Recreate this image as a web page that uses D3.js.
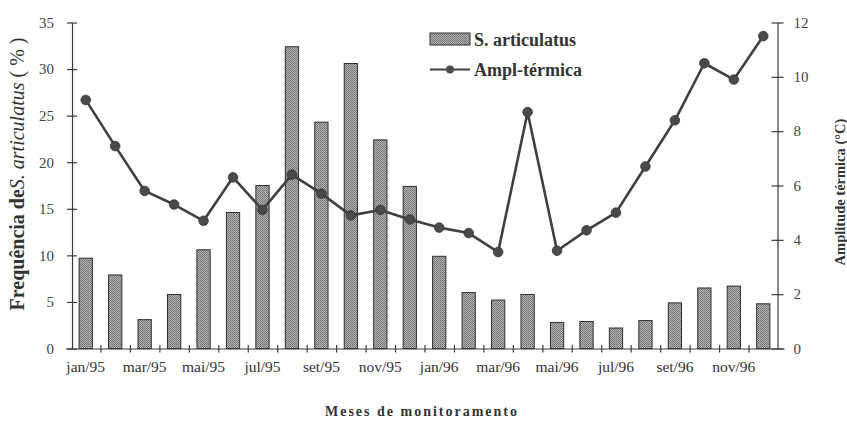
<!DOCTYPE html>
<html>
<head>
<meta charset="utf-8">
<script src="https://cdn.jsdelivr.net/npm/d3@7"></script>
<style>
  body { margin: 0; background: #fff; }
  svg { display: block; font-family: "Liberation Serif", "Times New Roman", serif; }
</style>
</head>
<body>
<svg id="chart"></svg>
<script>
// meses de monitoramento (jan/95 - dez/96)
const meses = ["jan/95","fev/95","mar/95","abr/95","mai/95","jun/95","jul/95","ago/95","set/95","out/95","nov/95","dez/95",
               "jan/96","fev/96","mar/96","abr/96","mai/96","jun/96","jul/96","ago/96","set/96","out/96","nov/96","dez/96"];
const rotulos = ["jan/95","mar/95","mai/95","jul/95","set/95","nov/95","jan/96","mar/96","mai/96","jul/96","set/96","nov/96"];

// frequencia de S. articulatus (%)
const frequencia = [9.7, 7.9, 3.1, 5.8, 10.6, 14.6, 17.5, 32.4, 24.3, 30.6, 22.4, 17.4,
                    9.9, 6.0, 5.2, 5.8, 2.8, 2.9, 2.2, 3.0, 4.9, 6.5, 6.7, 4.8];

// amplitude termica (C)
const amplitude = [9.15, 7.45, 5.8, 5.3, 4.7, 6.3, 5.1, 6.4, 5.7, 4.9, 5.1, 4.75,
                   4.45, 4.25, 3.55, 8.7, 3.6, 4.35, 5.0, 6.7, 8.4, 10.5, 9.9, 11.5];

const ticksEsq = [0, 5, 10, 15, 20, 25, 30, 35];
const ticksDir = [0, 2, 4, 6, 8, 10, 12];

width = 847;
height = 423;
margin = ({top: 22.5, right: 69, bottom: 74.5, left: 72});

const ink = "#3a3a3a";

const svg = d3.select("#chart")
    .attr("width", width)
    .attr("height", height)
    .attr("viewBox", [0, 0, width, height]);

svg.append("rect").attr("width", width).attr("height", height).attr("fill", "#fff");

// textura pontilhada das barras
const defs = svg.append("defs");
const pat = defs.append("pattern")
    .attr("id", "pontos")
    .attr("width", 2).attr("height", 2)
    .attr("patternUnits", "userSpaceOnUse");
pat.append("rect").attr("width", 2).attr("height", 2).attr("fill", "#b4b4b4");
pat.append("rect").attr("width", 1).attr("height", 1).attr("fill", "#6e6e6e");
pat.append("rect").attr("x", 1).attr("y", 1).attr("width", 1).attr("height", 1).attr("fill", "#7e7e7e");

x = d3.scaleBand()
    .domain(meses)
    .range([71, 778])
    .paddingInner(0.55)
    .paddingOuter(0.275);

// escala continua para os tracinhos entre os meses
xTick = d3.scaleLinear()
    .domain([0, meses.length])
    .range([71, 778]);

yEsq = d3.scaleLinear()
    .domain([0, 35])
    .range([height - margin.bottom, margin.top]);

yDir = d3.scaleLinear()
    .domain([0, 12])
    .range([height - margin.bottom, margin.top]);

const xEsq = margin.left;
const xDir = width - margin.right - 0.5;
const base = height - margin.bottom;

// barras
svg.append("g")
    .attr("class", "bars")
  .selectAll("rect")
  .data(frequencia)
  .join("rect")
    .attr("x", (d, i) => x(meses[i]))
    .attr("y", d => yEsq(d))
    .attr("width", x.bandwidth())
    .attr("height", d => yEsq(0) - yEsq(d))
    .attr("fill", "url(#pontos)")
    .attr("stroke", "#2e2e2e")
    .attr("stroke-width", 1);

// eixo x: linha com tracinhos cruzados
svg.append("g")
    .attr("class", "x-axis")
    .attr("transform", `translate(0,${base})`)
    .call(d3.axisBottom(xTick).tickValues(d3.range(1, meses.length)).tickFormat("").tickSizeOuter(0))
    .call(g => g.select(".domain").attr("d", `M${xEsq - 6},0.5H${xDir + 7}`))
    .call(g => g.selectAll(".tick line").attr("y1", -3.5).attr("y2", 4));

svg.append("g")
    .attr("class", "x-labels")
    .attr("transform", `translate(0,${base})`)
    .call(d3.axisBottom(x).tickValues(rotulos).tickSize(0).tickPadding(12))
    .call(g => g.select(".domain").remove())
    .call(g => g.selectAll("text").attr("font-size", 15.5).attr("font-family", "Liberation Serif, serif").attr("fill", "#333"));

// eixo esquerdo
svg.append("g")
    .attr("class", "y-axis")
    .attr("transform", `translate(${xEsq},0)`)
    .call(d3.axisLeft(yEsq).tickValues(ticksEsq).tickSizeOuter(0).tickPadding(12))
    .call(g => g.selectAll(".tick line").attr("x1", -5).attr("x2", 5))
    .call(g => g.selectAll("text").attr("font-size", 15).attr("font-family", "Liberation Serif, serif").attr("fill", "#444"));

// eixo direito
svg.append("g")
    .attr("class", "y-axis-dir")
    .attr("transform", `translate(${xDir},0)`)
    .call(d3.axisRight(yDir).tickValues(ticksDir).tickSizeOuter(0).tickPadding(10))
    .call(g => g.selectAll(".tick line").attr("x1", -6).attr("x2", 6))
    .call(g => g.selectAll("text").attr("font-size", 15).attr("font-family", "Liberation Serif, serif").attr("fill", "#444"));

svg.selectAll(".x-axis path, .x-axis line, .y-axis path, .y-axis line, .y-axis-dir path, .y-axis-dir line")
    .attr("stroke", ink)
    .attr("stroke-width", 1.2);

// linha da amplitude termica
const linha = d3.line()
    .x((d, i) => x(meses[i]) + x.bandwidth() / 2)
    .y(d => yDir(d));

svg.append("path")
    .datum(amplitude)
    .attr("fill", "none")
    .attr("stroke", "#404040")
    .attr("stroke-width", 2.6)
    .attr("stroke-linejoin", "round")
    .attr("d", linha);

svg.append("g")
  .selectAll("circle")
  .data(amplitude)
  .join("circle")
    .attr("cx", (d, i) => x(meses[i]) + x.bandwidth() / 2)
    .attr("cy", d => yDir(d))
    .attr("r", 4.8)
    .attr("fill", "#4a4a4a")
    .attr("stroke", "#333")
    .attr("stroke-width", 0.8);

// legenda
const leg = svg.append("g").attr("class", "legend");
leg.append("rect")
    .attr("x", 430).attr("y", 33).attr("width", 40).attr("height", 12)
    .attr("fill", "url(#pontos)").attr("stroke", "#2e2e2e");
leg.append("text")
    .attr("x", 474).attr("y", 46)
    .attr("font-size", 18).attr("font-weight", "bold").attr("fill", "#333")
    .text("S. articulatus");
leg.append("line")
    .attr("x1", 430).attr("x2", 470).attr("y1", 69.5).attr("y2", 69.5)
    .attr("stroke", "#404040").attr("stroke-width", 2);
leg.append("circle")
    .attr("cx", 450).attr("cy", 69.5).attr("r", 4)
    .attr("fill", "#4a4a4a");
leg.append("text")
    .attr("x", 474).attr("y", 76)
    .attr("font-size", 18).attr("font-weight", "bold").attr("fill", "#333")
    .text("Ampl-térmica");

// titulos dos eixos
svg.append("text")
    .attr("x", 422).attr("y", 416)
    .attr("text-anchor", "middle")
    .attr("font-size", 14).attr("font-weight", "bold")
    .attr("letter-spacing", 2).attr("fill", "#333")
    .text("Meses de monitoramento");

const tEsq = svg.append("text")
    .attr("transform", "translate(24,174) rotate(-90)")
    .attr("text-anchor", "middle")
    .attr("font-size", 20).attr("fill", "#333");
tEsq.append("tspan").attr("font-weight", "bold").text("Frequência de");
tEsq.append("tspan").attr("font-style", "italic").text("S. articulatus");
tEsq.append("tspan").text(" ( % )");

svg.append("text")
    .attr("transform", "translate(845,192) rotate(-90)")
    .attr("text-anchor", "middle")
    .attr("font-size", 14.5).attr("font-weight", "bold").attr("fill", "#333")
    .text("Amplitude térmica (°C)");
</script>
</body>
</html>
